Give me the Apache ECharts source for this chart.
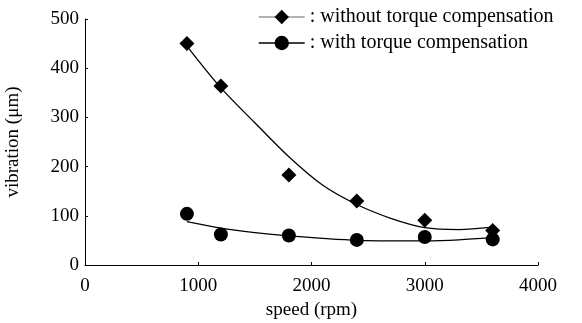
<!DOCTYPE html>
<html>
<head>
<meta charset="utf-8">
<script src="https://cdn.jsdelivr.net/npm/echarts@6/dist/echarts.min.js"></script>
<style>
  html, body { margin: 0; padding: 0; background: #fff; }
  #chart { width: 582px; height: 323px; }
</style>
</head>
<body>
<div id="chart"></div>
<script>
// Measured vibration against motor speed
const speeds = [900, 1200, 1800, 2400, 3000, 3600];
const withoutComp = [450, 364, 183, 130, 91, 70];
const withComp = [104, 62, 60, 51, 57, 52];

// Fitted trend curves, sampled along the speed range
const trendSpeeds = [900, 1200, 1500, 1800, 2100, 2400, 2700, 3000, 3300, 3600];
const trendWithout = [445, 360, 289, 220, 162, 123, 95, 76, 72, 77];
const trendWith = [88, 75, 66, 59, 54, 50, 49, 49, 51, 56];

const xTicks = [0, 1000, 2000, 3000, 4000];
const yTicks = [0, 100, 200, 300, 400, 500];

const nameWithout = 'without torque compensation';
const nameWith = 'with torque compensation';

const pair = (xs, ys) => xs.map((x, i) => [x, ys[i]]);
const serif = 'Liberation Serif, Times New Roman, serif';
const fs = 19;

const chart = echarts.init(document.getElementById('chart'));
chart.setOption({
  animation: false,
  backgroundColor: '#fff',
  textStyle: { fontFamily: serif },
  grid: { left: 85, right: 44, top: 19, bottom: 58, outerBoundsMode: 'none', containLabel: false },
  legend: {
    orient: 'vertical',
    left: 253,
    top: 2,
    itemWidth: 46,
    itemHeight: 18,
    itemGap: 6,
    formatter: n => ': ' + n,
    textStyle: { fontFamily: serif, fontSize: 20, color: '#000' },
    data: [
      { name: nameWithout, itemStyle: { color: '#000', opacity: 1 }, lineStyle: { color: '#999', width: 1.5 } },
      { name: nameWith, itemStyle: { color: '#000', opacity: 1 }, lineStyle: { color: '#000', width: 1.5 } }
    ]
  },
  xAxis: {
    type: 'value',
    min: xTicks[0],
    max: xTicks[xTicks.length - 1],
    interval: 1000,
    name: 'speed (rpm)',
    nameLocation: 'middle',
    nameGap: 36,
    nameTextStyle: { fontFamily: serif, fontSize: fs, color: '#000' },
    axisLine: { lineStyle: { color: '#000', width: 1 } },
    axisTick: { inside: true, length: 3, lineStyle: { color: '#000' } },
    axisLabel: { margin: 12, fontFamily: serif, fontSize: fs, color: '#000', formatter: v => String(v) },
    splitLine: { show: false }
  },
  yAxis: {
    type: 'value',
    min: yTicks[0],
    max: yTicks[yTicks.length - 1],
    interval: 100,
    name: 'vibration (\u03bcm)',
    nameLocation: 'middle',
    nameGap: 62,
    nameTextStyle: { fontFamily: serif, fontSize: fs, color: '#000' },
    axisLine: { show: true, lineStyle: { color: '#000', width: 1 } },
    axisTick: { show: true, inside: true, length: 3, lineStyle: { color: '#000' } },
    axisLabel: { margin: 6, fontFamily: serif, fontSize: fs, color: '#000', formatter: v => String(v) },
    splitLine: { show: false }
  },
  series: [
    {
      name: nameWithout,
      type: 'line',
      smooth: 0.3,
      symbol: 'diamond',
      symbolSize: 15,
      showSymbol: false,
      data: pair(trendSpeeds, trendWithout),
      lineStyle: { color: '#000', width: 1.3 },
      itemStyle: { color: '#000' },
      z: 2
    },
    {
      name: nameWith,
      type: 'line',
      smooth: 0.3,
      symbol: 'circle',
      symbolSize: 14,
      showSymbol: false,
      data: pair(trendSpeeds, trendWith),
      lineStyle: { color: '#000', width: 1.3 },
      itemStyle: { color: '#000' },
      z: 2
    },
    {
      name: nameWithout,
      type: 'scatter',
      symbol: 'diamond',
      symbolSize: 15,
      data: pair(speeds, withoutComp),
      itemStyle: { color: '#000', opacity: 1 },
      z: 3
    },
    {
      name: nameWith,
      type: 'scatter',
      symbol: 'circle',
      symbolSize: 14,
      data: pair(speeds, withComp),
      itemStyle: { color: '#000', opacity: 1 },
      z: 3
    }
  ]
});
</script>
</body>
</html>
